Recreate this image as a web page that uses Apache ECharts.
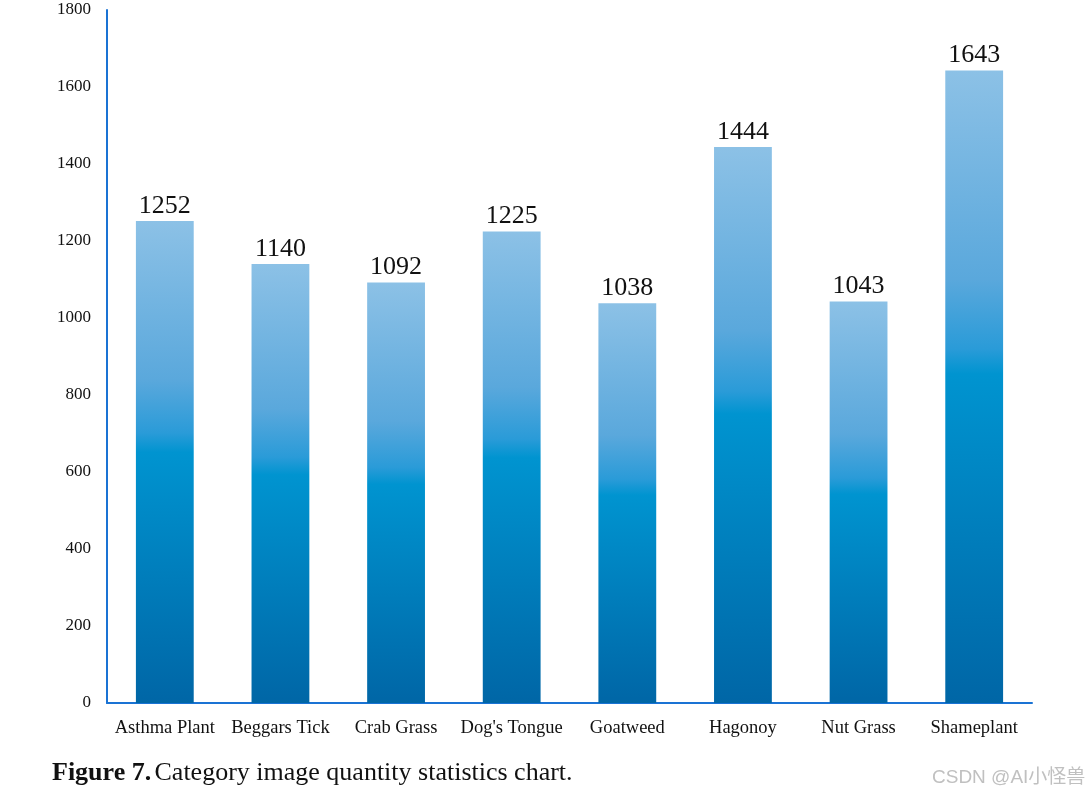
<!DOCTYPE html>
<html>
<head>
<meta charset="utf-8">
<script src="https://cdn.jsdelivr.net/npm/echarts@6/dist/echarts.min.js"></script>
<style>
html,body{margin:0;padding:0;background:#fff;}
#chart{width:1092px;height:797px;}
</style>
</head>
<body>
<div id="chart"></div>
<script>
const categories = ['Asthma Plant', 'Beggars Tick', 'Crab Grass', "Dog's Tongue", 'Goatweed', 'Hagonoy', 'Nut Grass', 'Shameplant'];
const counts = [1252, 1140, 1092, 1225, 1038, 1444, 1043, 1643];
const yTicks = { min: 0, max: 1800, interval: 200 };

const chart = echarts.init(document.getElementById('chart'));
const serif = '"Liberation Serif", "DejaVu Serif", serif';
chart.setOption({
  backgroundColor: '#ffffff',
  animation: false,
  grid: { left: 107, right: 60, top: 10, bottom: 94, containLabel: false },
  xAxis: {
    type: 'category',
    data: categories,
    axisLine: { show: true, lineStyle: { color: '#1a73d4', width: 2 } },
    axisTick: { show: false },
    axisLabel: { color: '#111', fontFamily: serif, fontSize: 18.5, margin: 16, interval: 0 }
  },
  yAxis: {
    type: 'value',
    min: yTicks.min, max: yTicks.max, interval: yTicks.interval,
    axisLine: { show: true, lineStyle: { color: '#1a73d4', width: 2 } },
    axisTick: { show: false },
    splitLine: { show: false },
    axisLabel: { color: '#111', fontFamily: serif, fontSize: 17, margin: 16, padding: [3, 0, 0, 0], formatter: (v) => String(v) }
  },
  series: [{
    type: 'bar',
    data: counts,
    barCategoryGap: '50%',
    itemStyle: {
      color: new echarts.graphic.LinearGradient(0, 0, 0, 1, [
        { offset: 0, color: '#8cc1e6' },
        { offset: 0.33, color: '#5aa8dc' },
        { offset: 0.44, color: '#2a9bd8' },
        { offset: 0.48, color: '#0094d0' },
        { offset: 1, color: '#0066a6' }
      ])
    },
    label: {
      show: true, position: 'top', distance: 2,
      color: '#111', fontFamily: serif, fontSize: 26
    }
  }],
  graphic: [
    {
      type: 'text', left: 52, top: 760,
      style: {
        rich: {
          b: { fontFamily: serif, fontSize: 26, fontWeight: 'bold', fill: '#111' },
          n: { fontFamily: serif, fontSize: 26, fill: '#111' }
        },
        text: '{b|Figure 7.} {n|Category image quantity statistics chart.}'
      }
    },
    {
      type: 'text', left: 932, top: 768,
      style: {
        text: 'CSDN @AI小怪兽',
        fontFamily: '"Liberation Sans", "Noto Sans CJK SC", sans-serif',
        fontSize: 19, fill: '#c0c0c0'
      }
    }
  ]
});
</script>
</body>
</html>
